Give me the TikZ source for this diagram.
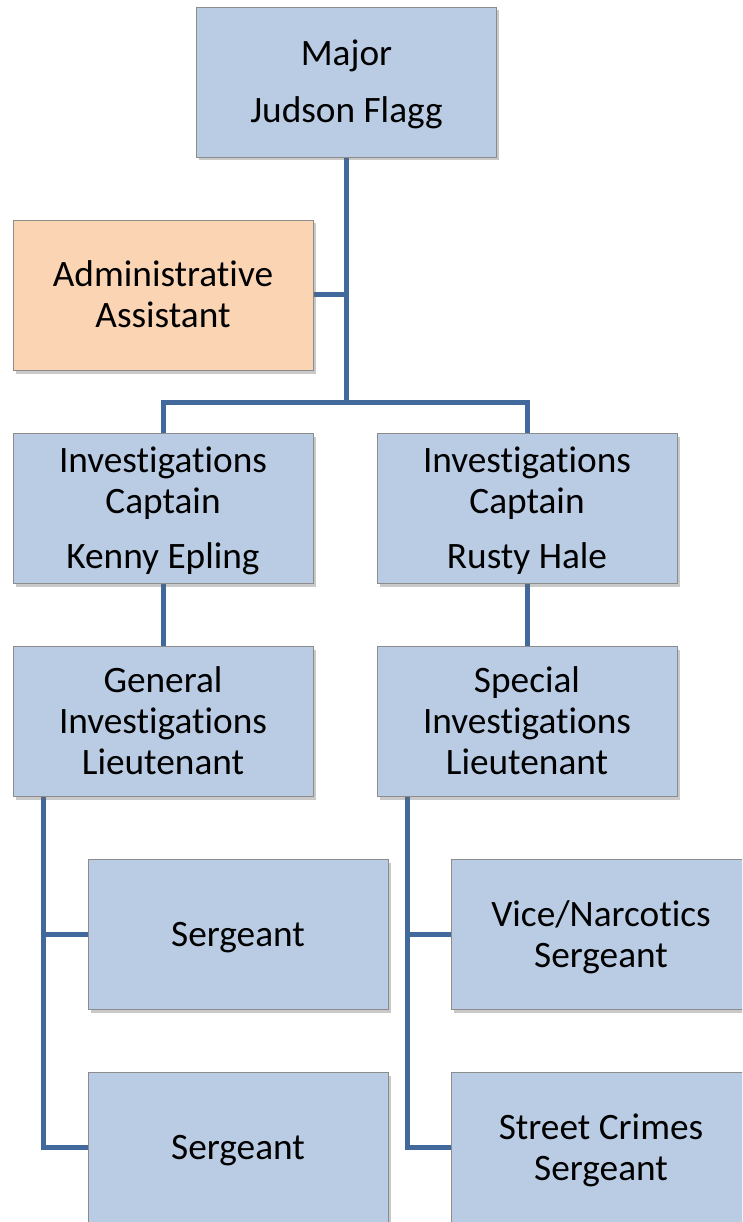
\documentclass[tikz,border=0pt]{standalone}
\usepackage{fontspec}
\setmainfont{Carlito}[Ligatures=NoCommon]
\usetikzlibrary{shadows,backgrounds}
\definecolor{boxblue}{HTML}{B9CCE4}
\definecolor{boxpeach}{HTML}{FBD4B4}
\definecolor{linkblue}{HTML}{41699C}
\definecolor{edgegray}{HTML}{8C8C8C}
\tikzset{
  orgbox/.style={rectangle, draw=edgegray, line width=0.8pt, fill=boxblue,
    minimum width=300pt, minimum height=150pt, inner sep=0pt,
    drop shadow={shadow xshift=2.5pt, shadow yshift=-3.5pt, opacity=0.35, fill=black!60}},
  peachbox/.style={orgbox, fill=boxpeach},
  txt/.style={align=center, text=black, inner sep=0pt, font=\fontsize{37.3}{41}\selectfont},
  link/.style={draw=linkblue, line width=5pt, line join=miter}
}
\begin{document}
\begin{tikzpicture}[x=1pt,y=-1pt]
\useasboundingbox (0,0) rectangle (742,1222);
\clip (0,0) rectangle (742,1222);
\node[orgbox] (major) at (346.5,82) {};
\node[peachbox] (admin) at (163,295) {};
\node[orgbox] (capL) at (163,508) {};
\node[orgbox] (capR) at (527,508) {};
\node[orgbox] (ltL) at (163,721) {};
\node[orgbox] (ltR) at (527,721) {};
\node[orgbox] (sgL1) at (238,934) {};
\node[orgbox] (sgL2) at (238,1147) {};
\node[orgbox] (sgR1) at (601,934) {};
\node[orgbox] (sgR2) at (601,1147) {};
\node[txt] (majorT) at ([yshift=-2pt]major.center) {Major\\[16pt]Judson Flagg};
\node[txt] (adminT) at ([yshift=1pt]admin.center) {Administrative\\Assistant};
\node[txt] (capLT) at ([yshift=-3pt]capL.center) {Investigations\\Captain\\[14pt]Kenny Epling};
\node[txt] (capRT) at ([yshift=-3pt]capR.center) {Investigations\\Captain\\[14pt]Rusty Hale};
\node[txt] (ltLT) at (ltL.center) {General\\Investigations\\Lieutenant};
\node[txt] (ltRT) at (ltR.center) {Special\\Investigations\\Lieutenant};
\node[txt] (sgL1T) at ([yshift=-4pt]sgL1.center) {Sergeant};
\node[txt] (sgL2T) at ([yshift=-4pt]sgL2.center) {Sergeant};
\node[txt] (sgR1T) at ([yshift=-3pt]sgR1.center) {Vice/Narcotics\\Sergeant};
\node[txt] (sgR2T) at ([yshift=-3pt]sgR2.center) {Street Crimes\\Sergeant};
\coordinate (bus) at (346,402);
\coordinate (lbus) at (43,796);
\coordinate (rbus) at (407,796);
\begin{scope}[on background layer]
\fill[white] (0,0) rectangle (742,1222);
\draw[link] (major.south -| bus) -- (bus);
\draw[link] (admin.east) -- (admin.east -| bus);
\draw[link] (capL.north) |- (bus) -| (capR.north);
\draw[link] (capL.south) -- (ltL.north);
\draw[link] (capR.south) -- (ltR.north);
\draw[link] (lbus) |- (sgL2.west);
\draw[link] (sgL1.west) -- (sgL1.west -| lbus);
\draw[link] (rbus) |- (sgR2.west);
\draw[link] (sgR1.west) -- (sgR1.west -| rbus);
\end{scope}
\end{tikzpicture}
\end{document}
